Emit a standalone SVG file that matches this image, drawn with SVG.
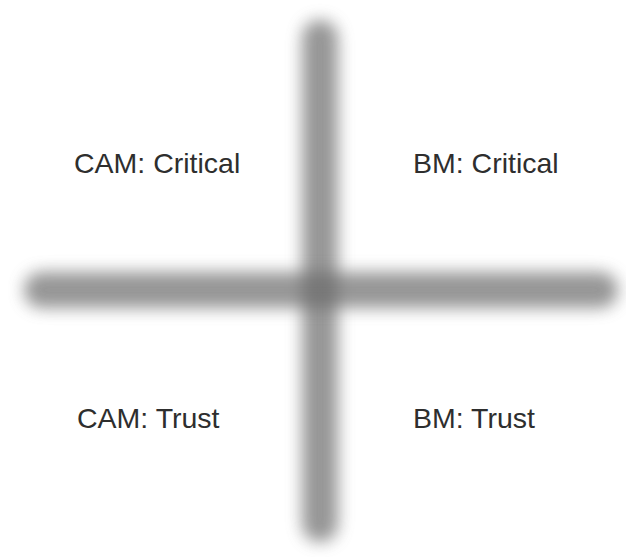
<svg xmlns="http://www.w3.org/2000/svg" width="626" height="557" viewBox="0 0 626 557">
<defs>
<filter id="blur" x="-50%" y="-10%" width="200%" height="120%"><feGaussianBlur stdDeviation="8"/></filter>
<filter id="blurh" x="-10%" y="-50%" width="120%" height="200%"><feGaussianBlur stdDeviation="8"/></filter>
</defs>
<style>
.lbl{font-family:"Liberation Sans",Arial,sans-serif;font-size:28.5px;fill:#2e2e2e}
.bar{fill:#6a6a6a;opacity:0.7}
</style>
<rect width="626" height="557" fill="#ffffff"/>
<g id="axes">
<rect class="bar" x="302" y="20" width="36" height="522" rx="18" filter="url(#blur)"/>
<rect class="bar" x="24" y="272" width="594" height="36" rx="18" filter="url(#blurh)"/>
</g>
<g id="q1"><text class="lbl" x="74" y="173">CAM: Critical</text></g>
<g id="q2"><text class="lbl" x="413" y="173">BM: Critical</text></g>
<g id="q3"><text class="lbl" x="77" y="428">CAM: Trust</text></g>
<g id="q4"><text class="lbl" x="413" y="428">BM: Trust</text></g>
</svg>
